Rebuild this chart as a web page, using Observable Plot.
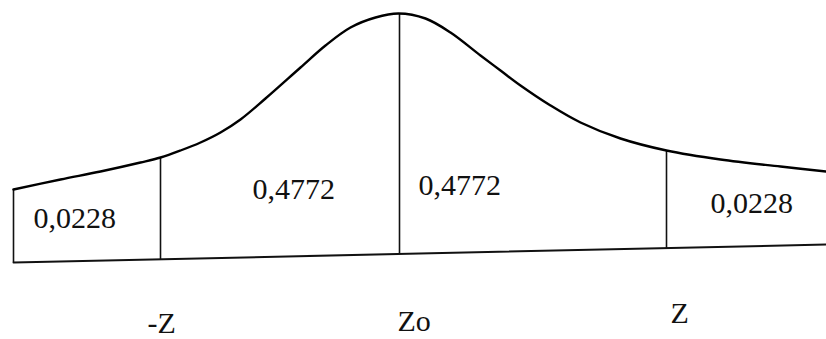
<!DOCTYPE html>
<html>
<head>
<meta charset="utf-8">
<script src="https://cdn.jsdelivr.net/npm/d3@7"></script>
<script src="https://cdn.jsdelivr.net/npm/@observablehq/plot@0.6"></script>
<style>
  html, body { margin: 0; padding: 0; background: #fff; }
  #chart svg { display: block; }
</style>
</head>
<body>
<div id="chart"></div>
<script>
// Curve: position along the axis and height above the page bottom
const curveX = [13, 60, 100, 140, 160, 180, 200, 220, 240, 265, 300, 325, 350, 375, 398, 425, 450, 480, 500, 520, 550, 580, 620, 666, 720, 780, 826];
const curveY = [150, 160, 168, 177, 182, 189, 197, 207, 220, 241, 272, 294, 312, 322, 326, 321, 307, 284, 269, 254, 234, 217, 201, 189, 180, 173, 168];

// Slightly slanted base line
const baseX = [13, 826];
const baseY = [77, 95];

// Vertical dividers: position, bottom, top
const divX = [13, 160, 399, 666];
const divY1 = [77, 80, 85, 91];
const divY2 = [150, 182, 326, 189];

// Area labels
const areaLabels = ["0,0228", "0,4772", "0,4772", "0,0228"];
const areaX = [33, 252, 418, 710];
const areaY = [121, 150, 154, 136];

// Axis labels
const axisLabels = ["-Z", "Zo", "Z"];
const axisX = [147, 397, 670];
const axisY = [16, 18, 26];

const curve = curveX.map((x, i) => ({x, y: curveY[i]}));
const base = baseX.map((x, i) => ({x, y: baseY[i]}));
const dividers = divX.map((x, i) => ({x, y1: divY1[i], y2: divY2[i]}));
const areas = areaLabels.map((t, i) => ({t, x: areaX[i], y: areaY[i]}));
const axes = axisLabels.map((t, i) => ({t, x: axisX[i], y: axisY[i]}));

const serif = "'Liberation Serif', Tinos, 'Times New Roman', Times, 'DejaVu Serif', 'Noto Serif', serif";

const chart = Plot.plot({
  width: 826,
  height: 339,
  margin: 0,
  x: {domain: [0, 826], axis: null},
  y: {domain: [0, 339], axis: null},
  style: {background: "#fff"},
  marks: [
    Plot.line(base, {x: "x", y: "y", stroke: "#111", strokeWidth: 2}),
    Plot.ruleX(dividers, {x: "x", y1: "y1", y2: "y2", stroke: "#111", strokeWidth: 1.6}),
    Plot.line(curve, {x: "x", y: "y", curve: "catmull-rom", stroke: "#000", strokeWidth: 2.4}),
    Plot.text(areas, {x: "x", y: "y", text: "t", textAnchor: "start", lineAnchor: "middle", fontSize: 30, fontFamily: serif, fill: "#111"}),
    Plot.text(axes, {x: "x", y: "y", text: "t", textAnchor: "start", lineAnchor: "middle", fontSize: 30, fontFamily: serif, fill: "#111"})
  ]
});
document.getElementById("chart").appendChild(chart);
</script>
</body>
</html>
